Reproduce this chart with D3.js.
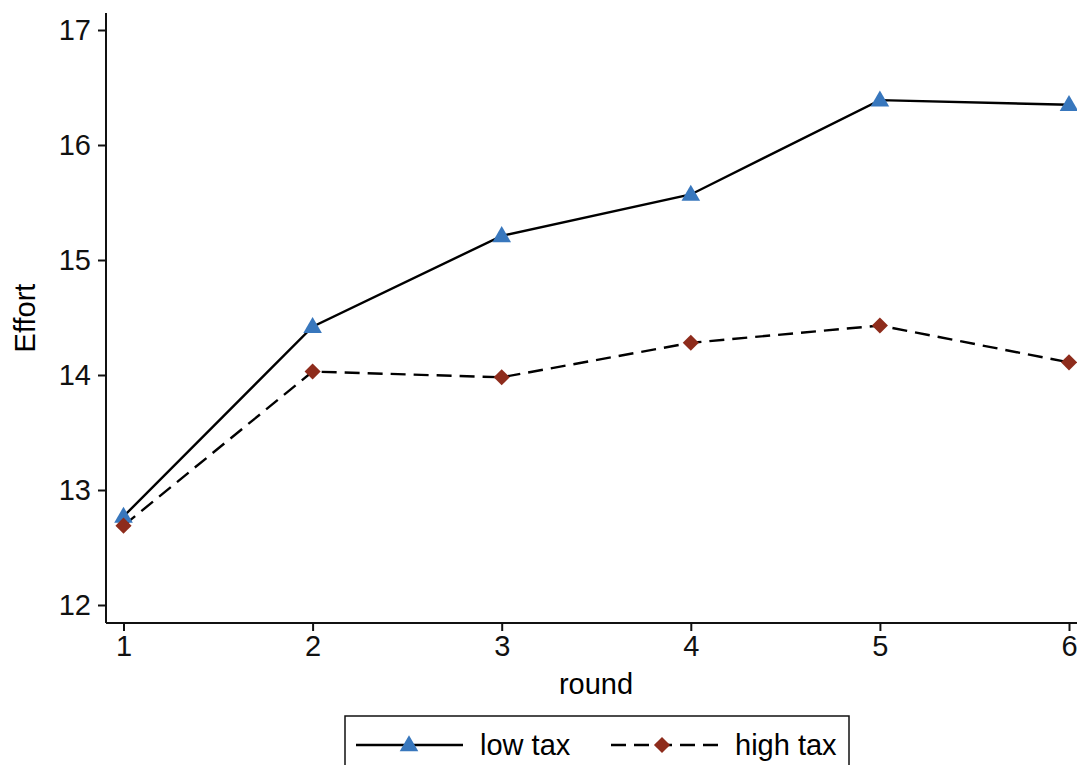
<!doctype html>
<html>
<head>
<meta charset="UTF-8">
<title>Effort by round</title>
<style>
  body { margin: 0; background: #fff; }
  svg { display: block; font-family: "Liberation Sans", Arial, sans-serif; }
</style>
</head>
<body>
<div id="chart"></div>
<script src="https://cdn.jsdelivr.net/npm/d3@7"></script>
<script>
  var rounds = [1, 2, 3, 4, 5, 6];
  var lowTax = [12.77, 14.42, 15.21, 15.57, 16.39, 16.35];
  var highTax = [12.69, 14.03, 13.98, 14.28, 14.43, 14.11];
  var yTicks = [12, 13, 14, 15, 16, 17];
  var seriesNames = ["low tax", "high tax"];

  var width = 1077, height = 765;
  var fs = 29;

  var svg = d3.select("#chart").append("svg")
    .attr("width", width)
    .attr("height", height);

  var x = d3.scaleLinear().domain([1, 6]).range([123.5, 1069]);
  var y = d3.scaleLinear().domain([12, 17]).range([605, 30]);

  // axes
  var yAxis = svg.append("g")
    .attr("transform", "translate(106,0)")
    .call(d3.axisLeft(y).tickValues(yTicks).tickFormat(d3.format("d"))
      .tickSize(8).tickPadding(7).tickSizeOuter(0));
  yAxis.select(".domain").attr("d", "M0,13V623");

  var xAxis = svg.append("g")
    .attr("transform", "translate(0,623)")
    .call(d3.axisBottom(x).tickValues(rounds).tickFormat(d3.format("d"))
      .tickSize(8).tickPadding(4).tickSizeOuter(0));
  xAxis.select(".domain").attr("d", "M106,0H1077");

  svg.selectAll(".domain, .tick line")
    .attr("stroke", "#111")
    .attr("stroke-width", 2);
  svg.selectAll(".tick text")
    .attr("font-size", fs)
    .attr("fill", "#111")
    .attr("font-family", "Liberation Sans, Arial, sans-serif");

  svg.append("text")
    .attr("x", 596).attr("y", 694)
    .attr("text-anchor", "middle")
    .attr("font-size", fs)
    .text("round");

  svg.append("text")
    .attr("transform", "translate(35,318) rotate(-90)")
    .attr("text-anchor", "middle")
    .attr("font-size", fs)
    .text("Effort");

  var line = d3.line()
    .x(function(d, i) { return x(rounds[i]); })
    .y(function(d) { return y(d); });

  svg.append("path")
    .datum(lowTax)
    .attr("d", line)
    .attr("fill", "none")
    .attr("stroke", "#000")
    .attr("stroke-width", 2.4);

  svg.append("path")
    .datum(highTax)
    .attr("d", line)
    .attr("fill", "none")
    .attr("stroke", "#000")
    .attr("stroke-width", 2.4)
    .attr("stroke-dasharray", "15,8");

  var tri = d3.symbol().type(d3.symbolTriangle).size(150);
  var dia = d3.symbol().type(d3.symbolSquare).size(130);

  svg.selectAll(".tri")
    .data(lowTax)
    .enter().append("path")
    .attr("class", "tri")
    .attr("d", tri)
    .attr("transform", function(d, i) { return "translate(" + x(rounds[i]) + "," + (y(d) + 1) + ")"; })
    .attr("fill", "#3877bd");

  svg.selectAll(".dia")
    .data(highTax)
    .enter().append("path")
    .attr("class", "dia")
    .attr("d", dia)
    .attr("transform", function(d, i) { return "translate(" + x(rounds[i]) + "," + y(d) + ") rotate(45)"; })
    .attr("fill", "#8e2c1c");

  // legend
  var legend = svg.append("g");
  legend.append("rect")
    .attr("x", 345).attr("y", 716)
    .attr("width", 504).attr("height", 60)
    .attr("fill", "#fff")
    .attr("stroke", "#111")
    .attr("stroke-width", 1.5);

  legend.append("line")
    .attr("x1", 356).attr("x2", 463).attr("y1", 745).attr("y2", 745)
    .attr("stroke", "#000").attr("stroke-width", 2.4);
  legend.append("path")
    .attr("d", tri)
    .attr("transform", "translate(409,746)")
    .attr("fill", "#3877bd");
  legend.append("text")
    .attr("x", 480).attr("y", 755)
    .attr("font-size", fs)
    .text(seriesNames[0]);

  legend.append("line")
    .attr("x1", 611).attr("x2", 718).attr("y1", 745).attr("y2", 745)
    .attr("stroke", "#000").attr("stroke-width", 2.4)
    .attr("stroke-dasharray", "15,8");
  legend.append("path")
    .attr("d", dia)
    .attr("transform", "translate(662,745) rotate(45)")
    .attr("fill", "#8e2c1c");
  legend.append("text")
    .attr("x", 735).attr("y", 755)
    .attr("font-size", fs)
    .text(seriesNames[1]);
</script>
</body>
</html>
